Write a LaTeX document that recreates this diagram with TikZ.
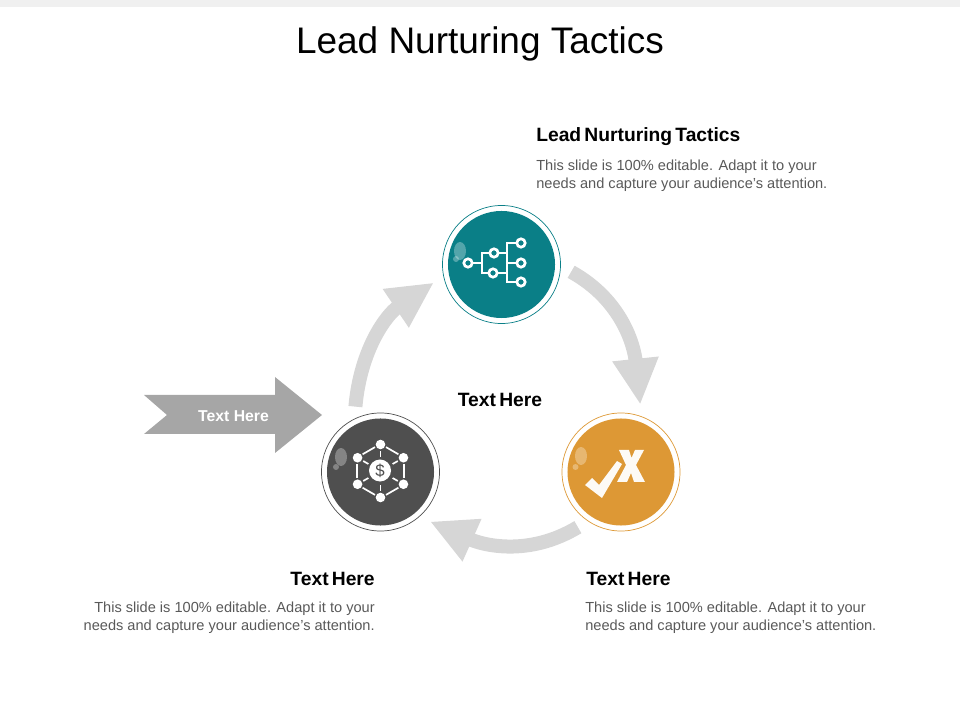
\documentclass[tikz,border=0pt]{standalone}
\usepackage{fontspec}
\setmainfont{Liberation Sans}
\newfontfamily\headfont[WordSpace=0.6]{Liberation Sans}
\usepackage{xcolor}
\usetikzlibrary{arrows.meta}

\definecolor{tealfill}{HTML}{0A7F87}
\definecolor{darkfill}{HTML}{4F4F4F}
\definecolor{orangefill}{HTML}{DD9835}
\definecolor{flowgray}{HTML}{D6D6D6}
\definecolor{bodygray}{HTML}{595959}

\begin{document}
\begin{tikzpicture}[
        x=0.025cm,y=-0.025cm,
        ring/.style={
            circle,
            draw=#1,
            line width=0.5pt,
            inner sep=0pt,
            minimum size=2.95cm,
            outer sep=0.275cm
        },
        disc/.style={
            circle,
            fill=#1,
            inner sep=0pt,
            minimum size=2.675cm
        },
        flow/.style={
            draw=flowgray,
            line width=0.35cm,
            -{Triangle[length=1.15cm,width=1.08cm]}
        },
        heading/.style={font=\headfont\bfseries\fontsize{13.7}{16}\selectfont,inner sep=0pt},
        para/.style={font=\fontsize{10.38}{13.1}\selectfont,text=bodygray,inner sep=0pt},
        bubble/.style={fill=white,opacity=0.3},
        iconline/.style={draw=white,line width=1.2pt},
        pip/.style={draw=white,line width=1.9pt,fill=none}
    ]
    \useasboundingbox (0,0) rectangle (960,720);
    \fill[gray!12] (0,0) rectangle (960,7);

    % Title
    \node[font=\fontsize{26.3}{30}\selectfont,inner sep=0pt] (title) at (480,44) {Lead Nurturing Tactics};

    % ---------- Circles ----------
    \node[ring=tealfill] (teal) at (501.5,264.5) {};
    \node[disc=tealfill] (tealdisc) at (501.5,264.5) {};
    \node[ring=orangefill] (orange) at (621,472) {};
    \node[disc=orangefill] (orangedisc) at (621,472) {};
    \node[ring=darkfill] (dark) at (380.5,472) {};
    \node[disc=darkfill] (darkdisc) at (380.5,472) {};

    % ---------- Curved arrows ----------
    \draw[flow] (teal.-6) to[out=-29,in=96] (orange.74);
    \draw[flow] (orange.232) to[out=211,in=-24] (dark.-45);
    \draw[flow] (dark.111) to[out=85,in=214] (teal.195);

    % ---------- Entry arrow ----------
    \fill[gray!70] (144,395) -- (275,395) -- (275,377) -- (322,415) -- (275,453)
        -- (275,434) -- (144,434) -- (167,415) -- cycle;
    \node[font=\bfseries\fontsize{11.2}{12}\selectfont,text=white,inner sep=0pt] (entry) at (233.5,416) {Text Here};

    % Bubbles
    \foreach \bx/\by in {460/251,341/457,581/456}{
        \fill[bubble] (\bx,\by) ellipse (6 and 9);
    }
    \fill[bubble] (456,259) circle (3);
    \fill[bubble] (336,467) circle (3);
    \fill[bubble] (575.5,467) circle (3);

    % ---------- Teal icon ----------
    \foreach \px/\py in {468/263,494/253,493/273,521/243,521/263,521/282}{
        \draw[pip] (\px,\py) circle (4.2);
    }
    \draw[iconline] (473,263) -- (482,263) (489,253) -- (482,253) -- (482,273) -- (488,273);
    \draw[iconline] (499,253) -- (507,253) (498,273) -- (507,273);
    \draw[iconline] (516,243) -- (507,243) -- (507,282) -- (516,282) (507,263) -- (516,263);

    % ---------- Dark icon ----------
    \foreach \ang in {30,90,...,330}{
        \fill[white] (380.5,471)+(\ang:26.5) circle (4.8);
        \draw[iconline] (380.5,471)+(\ang:14) -- +(\ang:20);
        \draw[iconline] (380.5,471)+(\ang+13:24.5) -- +(\ang+47:24.5);
    }
    \node[circle,fill=white,minimum size=0.55cm,inner sep=0pt,text=darkfill,font=\fontsize{12}{14}\selectfont] (dollar) at (380,470.5) {\$};

    % ---------- Orange icon ----------
    \fill[white!95!orangefill] (585,485) -- (592,478) -- (599,485) -- (617,461) -- (622,464) -- (602,498) -- cycle;
    \fill[white!95!orangefill] (619,450) -- (629,450) -- (631.5,458) -- (635,450) -- (644,450) -- (636,465)
        -- (645,482) -- (634,482) -- (631,473) -- (627,482) -- (617,482) -- (626,465) -- cycle;

    % ---------- Labels ----------
    \node[heading,anchor=west] (tophead) at (536,137) {Lead Nurturing Tactics};
    \node[para,anchor=north west,align=left] (toptext) at (536,159.5)
        {This slide is 100\% editable. Adapt it to your\\needs and capture your audience's attention.};

    \node[heading] (centerhead) at (500,400) {Text Here};

    \node[heading,anchor=east] (lefthead) at (375,578.5) {Text Here};
    \node[para,anchor=north east,align=right] (lefttext) at (375,601.5)
        {This slide is 100\% editable. Adapt it to your\\needs and capture your audience's attention.};

    \node[heading,anchor=west] (righthead) at (586,578.5) {Text Here};
    \node[para,anchor=north west,align=left] (righttext) at (585,601.5)
        {This slide is 100\% editable. Adapt it to your\\needs and capture your audience's attention.};
\end{tikzpicture}
\end{document}
